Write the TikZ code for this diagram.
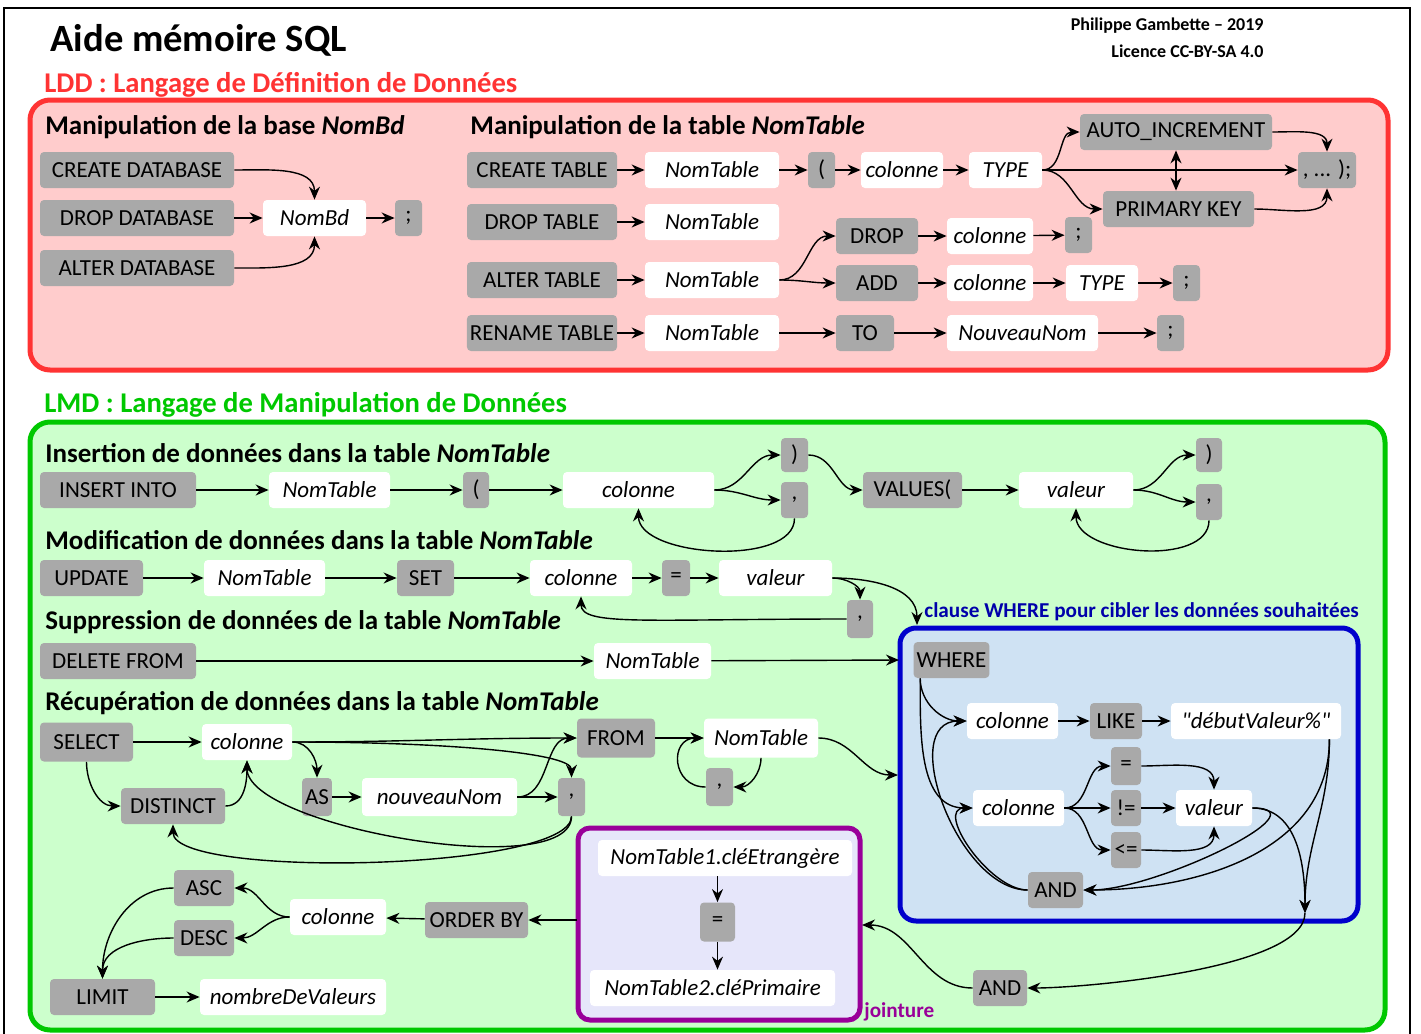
\documentclass[tikz,border=0pt]{standalone}
\usepackage{fontspec}
\setmainfont{Carlito}
\newfontfamily\rawquote{Carlito}[Ligatures=TeXOff]
\usepackage{xcolor}
\usepackage{tikz}
\usetikzlibrary{arrows.meta}
\definecolor{kwgray}{HTML}{A9A9A9}
\definecolor{lddred}{HTML}{FF3333}
\definecolor{lddbg}{HTML}{FFCCCC}
\definecolor{lmdgreen}{HTML}{00C800}
\definecolor{lmdbg}{HTML}{CCFFCC}
\definecolor{wherebl}{HTML}{0000CC}
\definecolor{wherebg}{HTML}{CFE2F3}
\definecolor{wheretxt}{HTML}{0000AA}
\definecolor{joinpur}{HTML}{990099}
\definecolor{joinbg}{HTML}{E6E6FA}
\newcommand\kwfont{\fontsize{11.5}{13}\selectfont}

\begin{document}
\begin{tikzpicture}[
  x=0.5pt,y=-0.5pt,
  kw/.style={fill=kwgray,rounded corners=2pt,inner sep=1.5pt,minimum height=18pt,font=\kwfont},
  val/.style={kw,fill=white,font=\kwfont\itshape},
  head/.style={anchor=west,inner sep=0pt,font=\fontsize{13.5}{16}\selectfont\bfseries},
  part/.style={anchor=west,inner sep=0pt,font=\fontsize{14.3}{17}\selectfont\bfseries},
  small/.style={inner sep=0pt,font=\fontsize{10.6}{12}\selectfont\bfseries},
  zone/.style={line width=2.5pt,rounded corners=10pt},
  arr/.style={-{Stealth[length=6.5pt,width=5.5pt]},line width=0.7pt},
  dbl/.style={{Stealth[length=6.5pt,width=5.5pt]}-{Stealth[length=6.5pt,width=5.5pt]},line width=0.7pt}]
  \useasboundingbox (0,0) rectangle (1421,1034);
  \draw[line width=1pt] (4,1034) -- (4,8) -- (1410,8) -- (1410,1034);

  \node[anchor=west,inner sep=0pt,font=\fontsize{19.3}{22}\selectfont\bfseries] (title) at (50,40) {Aide mémoire SQL};
  \node[anchor=east,inner sep=0pt,font=\fontsize{9}{10}\selectfont\bfseries] (auth1) at (1264,26) {Philippe Gambette -- 2019};
  \node[anchor=east,inner sep=0pt,font=\fontsize{9}{10}\selectfont\bfseries] (auth2) at (1264,51) {Licence CC-BY-SA 4.0};

  % LDD
  \node[part,text=lddred] (lddlbl) at (44,85) {LDD : Langage de Définition de Données};
  \draw[zone,draw=lddred,fill=lddbg] (30,100) rectangle (1388,370);
  \node[head] (hbase) at (45,127) {Manipulation de la base \textit{NomBd}};
  \node[head] (htable) at (470,127) {Manipulation de la table \textit{NomTable}};

  \node[kw,minimum width=97pt] (cdb) at (137,170) {CREATE DATABASE};
  \node[kw,minimum width=97pt] (ddb) at (137,218) {DROP DATABASE};
  \node[kw,minimum width=97pt] (adb) at (137,268) {ALTER DATABASE};
  \node[val,minimum width=51.5pt] (nombd) at (314.5,218) {NomBd};
  \node[kw,minimum width=13.5pt] (semi1) at (408.5,218) {;};

  \node[kw,minimum width=75pt] (ctab) at (542,170) {CREATE TABLE};
  \node[val,minimum width=67pt] (nt1) at (712,170) {NomTable};
  \node[kw,minimum width=13.5pt] (par1) at (821.5,170) {(};
  \node[val,minimum width=41pt] (col1) at (902,170) {colonne};
  \node[val,minimum width=36.5pt] (type1) at (1005.5,170) {TYPE};
  \node[kw,minimum width=96pt] (autoinc) at (1176,132) {AUTO\_INCREMENT};
  \node[kw,minimum width=75.5pt] (pk) at (1178.5,209) {PRIMARY KEY};
  \node[kw,minimum width=29pt] (fin) at (1327,170) {, ... );};

  \node[kw,minimum width=75pt] (dtab) at (542,222) {DROP TABLE};
  \node[val,minimum width=67pt] (nt2) at (712,222) {NomTable};
  \node[kw,minimum width=75pt] (atab) at (542,280) {ALTER TABLE};
  \node[val,minimum width=67pt] (nt3) at (712,280) {NomTable};
  \node[kw,minimum width=75pt] (rtab) at (542,333) {RENAME TABLE};
  \node[val,minimum width=67pt] (nt4) at (712,333) {NomTable};
  \node[kw,minimum width=41pt] (drop) at (877,236) {DROP};
  \node[val,minimum width=43pt] (col2) at (990,236) {colonne};
  \node[kw,minimum width=13.5pt] (semi2) at (1078.5,235) {;};
  \node[kw,minimum width=41pt] (add) at (877,283) {ADD};
  \node[val,minimum width=43pt] (col3) at (990,283) {colonne};
  \node[val,minimum width=36pt] (type2) at (1102,283) {TYPE};
  \node[kw,minimum width=13.5pt] (semi3) at (1186.5,283) {;};
  \node[kw,minimum width=29pt] (to) at (865,333) {TO};
  \node[val,minimum width=75.5pt] (nnom) at (1022.5,333) {NouveauNom};
  \node[kw,minimum width=13.5pt] (semi4) at (1170.5,333) {;};

  \draw[arr] (cdb) to[out=0,in=90] (nombd);
  \draw[arr] (ddb) -- (nombd);
  \draw[arr] (adb) to[out=0,in=-90] (nombd);
  \draw[arr] (nombd) -- (semi1);
  \draw[arr] (ctab) -- (nt1);
  \draw[arr] (nt1) -- (par1);
  \draw[arr] (par1) -- (col1);
  \draw[arr] (col1) -- (type1);
  \draw[arr] (type1) to[out=0,in=180] (autoinc);
  \draw[arr] (type1) -- (fin);
  \draw[arr] (type1) to[out=0,in=180] (pk);
  \draw[arr] (autoinc) to[out=0,in=90] (fin);
  \draw[arr] (pk) to[out=0,in=-90] (fin);
  \draw[dbl] (autoinc.south) -- (autoinc.south |- pk.north);
  \draw[arr] (dtab) -- (nt2);
  \draw[arr] (atab) -- (nt3);
  \draw[arr] (nt3) to[out=0,in=180] (drop);
  \draw[arr] (nt3) to[out=0,in=180] (add);
  \draw[arr] (drop) -- (col2);
  \draw[arr] (col2) -- (semi2);
  \draw[arr] (add) -- (col3);
  \draw[arr] (col3) -- (type2);
  \draw[arr] (type2) -- (semi3);
  \draw[arr] (rtab) -- (nt4);
  \draw[arr] (nt4) -- (to);
  \draw[arr] (to) -- (nnom);
  \draw[arr] (nnom) -- (semi4);

  % LMD
  \node[part,text=lmdgreen] (lmdlbl) at (44,405) {LMD : Langage de Manipulation de Données};
  \draw[zone,draw=lmdgreen,fill=lmdbg] (30,422) rectangle (1385,1030);
  \draw[zone,draw=wherebl,fill=wherebg,rounded corners=8pt] (900,628) rectangle (1358,921);
  \draw[zone,draw=joinpur,fill=joinbg,rounded corners=6pt] (578,828) rectangle (860,1020);
  \node[small,anchor=west,text=wheretxt] (wherelbl) at (924,612) {clause WHERE pour cibler les données souhaitées};
  \node[small,anchor=west,text=joinpur] (joinlbl) at (864,1012) {jointure};
  \coordinate (wtop) at (917,625);
  \coordinate (wleft) at (899,660);
  \coordinate (wleft2) at (898,775);
  \coordinate (wbot) at (1305,913);
  \coordinate (pright) at (862,925);
  \coordinate (pleft) at (577,920);

  \node[head] (hins) at (45,453) {Insertion de données dans la table \textit{NomTable}};
  \node[kw,minimum width=78pt] (ins) at (118,490) {INSERT INTO};
  \node[val,minimum width=60.5pt] (nt5) at (329.5,490) {NomTable};
  \node[kw,minimum width=13pt] (par2) at (476,490) {(};
  \node[val,minimum width=75.5pt] (col4) at (638.5,490) {colonne};
  \node[kw,minimum width=13.5pt,minimum height=17pt] (cpar1) at (794.5,455) {)};
  \node[kw,minimum width=13.5pt] (com1) at (794.5,500) {,};
  \node[kw,minimum width=49.5pt] (values) at (912.5,490) {VALUES(};
  \node[val,minimum width=57pt] (val1) at (1076,490) {valeur};
  \node[kw,minimum width=13pt,minimum height=17pt] (cpar2) at (1209,455) {)};
  \node[kw,minimum width=13pt] (com2) at (1209,502) {,};

  \node[head] (hmod) at (45,540) {Modification de données dans la table \textit{NomTable}};
  \node[kw,minimum width=51.5pt] (upd) at (91.5,578) {UPDATE};
  \node[val,minimum width=60.5pt] (nt6) at (264.5,578) {NomTable};
  \node[kw,minimum width=28.5pt] (set) at (425.5,578) {SET};
  \node[val,minimum width=51pt] (col5) at (581,578) {colonne};
  \node[kw,minimum width=14pt] (eq1) at (676,578) {=};
  \node[val,minimum width=56.5pt] (val2) at (775.5,578) {valeur};
  \node[kw,minimum width=13pt,minimum height=19pt] (com3) at (860,619) {,};

  \node[head] (hsup) at (45,622) {Suppression de données de la table \textit{NomTable}};
  \node[kw,minimum width=78pt] (del) at (118,661) {DELETE FROM};
  \node[val,minimum width=58.5pt] (nt7) at (652.5,661) {NomTable};

  \node[kw,minimum width=37.5pt] (where) at (951.5,660) {WHERE};
  \node[val,minimum width=45.5pt] (col6) at (1012.5,721) {colonne};
  \node[kw,minimum width=26pt] (like) at (1116,721) {LIKE};
  \node[val,minimum width=85pt] (debut) at (1256,721) {\rawquote\itshape "débutValeur\%"};
  \node[kw,minimum width=15pt,minimum height=19pt] (eq2) at (1126,766) {=};
  \node[kw,minimum width=15pt] (neq) at (1126,808) {!=};
  \node[kw,minimum width=15pt] (leq) at (1126,850) {<=};
  \node[val,minimum width=45.5pt] (col7) at (1018.5,808) {colonne};
  \node[val,minimum width=38pt] (val3) at (1214,808) {valeur};
  \node[kw,minimum width=27.5pt] (and1) at (1055.5,890) {AND};
  \node[kw,minimum width=27pt] (and2) at (1000,988) {AND};

  \node[head] (hsel) at (45,703) {Récupération de données dans la table \textit{NomTable}};
  \node[kw,minimum width=46.5pt,minimum height=19.5pt] (sel) at (86.5,742) {SELECT};
  \node[val,minimum width=45pt] (col8) at (247,742) {colonne};
  \node[kw,minimum width=39pt,minimum height=19.5pt] (from) at (616,738) {FROM};
  \node[val,minimum width=57pt,minimum height=19.5pt] (nt8) at (761,738) {NomTable};
  \node[kw,minimum width=13.5pt,minimum height=19pt] (com4) at (719.5,787) {,};
  \node[kw,minimum width=14pt,minimum height=19pt] (as) at (317,797) {AS};
  \node[val,minimum width=77.5pt,minimum height=19pt] (nnv) at (439.5,797) {nouveauNom};
  \node[kw,minimum width=13.5pt,minimum height=19pt] (com5) at (571.5,797) {,};
  \node[kw,minimum width=52pt] (dist) at (173,806) {DISTINCT};

  \node[val,minimum width=127pt] (fk) at (725,858) {NomTable1.cléEtrangère};
  \node[kw,minimum width=17.5pt,minimum height=19.5pt] (eq3) at (717.5,922) {=};
  \node[val,minimum width=122.5pt] (pk2) at (712.5,988) {NomTable2.cléPrimaire};
  \node[kw,minimum width=51.5pt] (ord) at (476.5,920) {ORDER BY};
  \node[val,minimum width=48pt] (col9) at (338,917) {colonne};
  \node[kw,minimum width=30pt] (asc) at (204,888) {ASC};
  \node[kw,minimum width=30pt] (desc) at (204,938) {DESC};
  \node[kw,minimum width=52.5pt] (lim) at (102.5,997) {LIMIT};
  \node[val,minimum width=93pt] (nbv) at (293,997) {nombreDeValeurs};

  \draw[arr] (ins) -- (nt5);
  \draw[arr] (nt5) -- (par2);
  \draw[arr] (par2) -- (col4);
  \draw[arr] (col4) to[out=0,in=180] (cpar1);
  \draw[arr] (col4) to[out=0,in=180] (com1);
  \draw[arr] (com1) to[out=-90,in=-90,looseness=0.8] (col4);
  \draw[arr] (cpar1) to[out=0,in=180] (values);
  \draw[arr] (values) -- (val1);
  \draw[arr] (val1) to[out=0,in=180] (cpar2);
  \draw[arr] (val1) to[out=0,in=180] (com2);
  \draw[arr] (com2) to[out=-90,in=-90,looseness=0.9] (val1);

  \draw[arr] (upd) -- (nt6);
  \draw[arr] (nt6) -- (set);
  \draw[arr] (set) -- (col5);
  \draw[arr] (col5) -- (eq1);
  \draw[arr] (eq1) -- (val2);
  \draw[arr] (val2) to[out=0,in=90] (com3);
  \draw[arr] (val2) to[out=0,in=90] (wtop);
  \draw[arr] (com3.west) .. controls +(-200,0) and +(0,30) .. (col5.south);

  \draw[arr] (del) -- (nt7);
  \draw[arr] (nt7) -- (wleft);

  \draw[arr] ([xshift=3.5pt]where.south west) to[out=-90,in=180] (col6.west);
  \draw[arr] ([xshift=3.5pt]where.south west) to[out=-90,in=180] (col7.west);
  \draw[arr] (and1) to[out=180,in=180] (col6);
  \draw[arr] (and1) to[out=180,in=180] (col7);
  \draw[arr] (col6) -- (like);
  \draw[arr] (like) -- (debut);
  \draw[arr] (col7) to[out=0,in=180] (eq2);
  \draw[arr] (col7) -- (neq);
  \draw[arr] (col7) to[out=0,in=180] (leq);
  \draw[arr] (eq2) to[out=0,in=90] (val3);
  \draw[arr] (neq) -- (val3);
  \draw[arr] (leq) to[out=0,in=-90] (val3);
  \draw[arr] ([xshift=-6pt]debut.south east) to[out=-90,in=90] (wbot);
  \draw[arr] ([xshift=-6pt]debut.south east) to[out=-90,in=0] (and1);
  \draw[arr] (val3) to[out=0,in=90] (wbot);
  \draw[arr] (val3) to[out=0,in=0] (and1);
  \draw[arr] (wbot) to[out=-90,in=0,looseness=0.5] (and2);
  \draw[arr] (and2) to[out=180,in=0] (pright);

  \draw[arr] (sel) -- (col8);
  \draw[arr] (sel) to[out=-90,in=180] (dist);
  \draw[arr] (dist) to[out=0,in=-90] (col8);
  \draw[arr] (col8) to[out=0,in=180] (from);
  \draw[arr] (col8.east) .. controls +(150,0) and +(0,-25) .. (com5.north);
  \draw[arr] (col8.east) to[out=0,in=90] (as.north);
  \draw[arr] (as) -- (nnv);
  \draw[arr] (nnv) -- (com5);
  \draw[arr] (nnv) to[out=0,in=180] (from);
  \draw[arr] (com5) to[out=-90,in=-90,looseness=0.52] (col8);
  \draw[arr] (com5) to[out=-90,in=-90,looseness=0.35] (dist);
  \draw[arr] (from) -- (nt8);
  \draw[arr] (nt8) to[out=-90,in=0] (com4);
  \draw[arr] (com4) to[out=180,in=180,looseness=1.8] (nt8);
  \draw[arr] (nt8) to[out=0,in=180] (wleft2);

  \draw[arr] (eq3 |- fk.south) -- (eq3);
  \draw[arr] (eq3) -- (eq3 |- pk2.north);
  \draw[arr] (pleft) -- (ord);
  \draw[arr] (ord) -- (col9);
  \draw[arr] (col9) to[out=180,in=0] (asc);
  \draw[arr] (col9) to[out=180,in=0] (desc);
  \draw[arr] (asc) to[out=180,in=90] (lim);
  \draw[arr] (desc) to[out=180,in=90] (lim);
  \draw[arr] (lim) -- (nbv);
\end{tikzpicture}
\end{document}
